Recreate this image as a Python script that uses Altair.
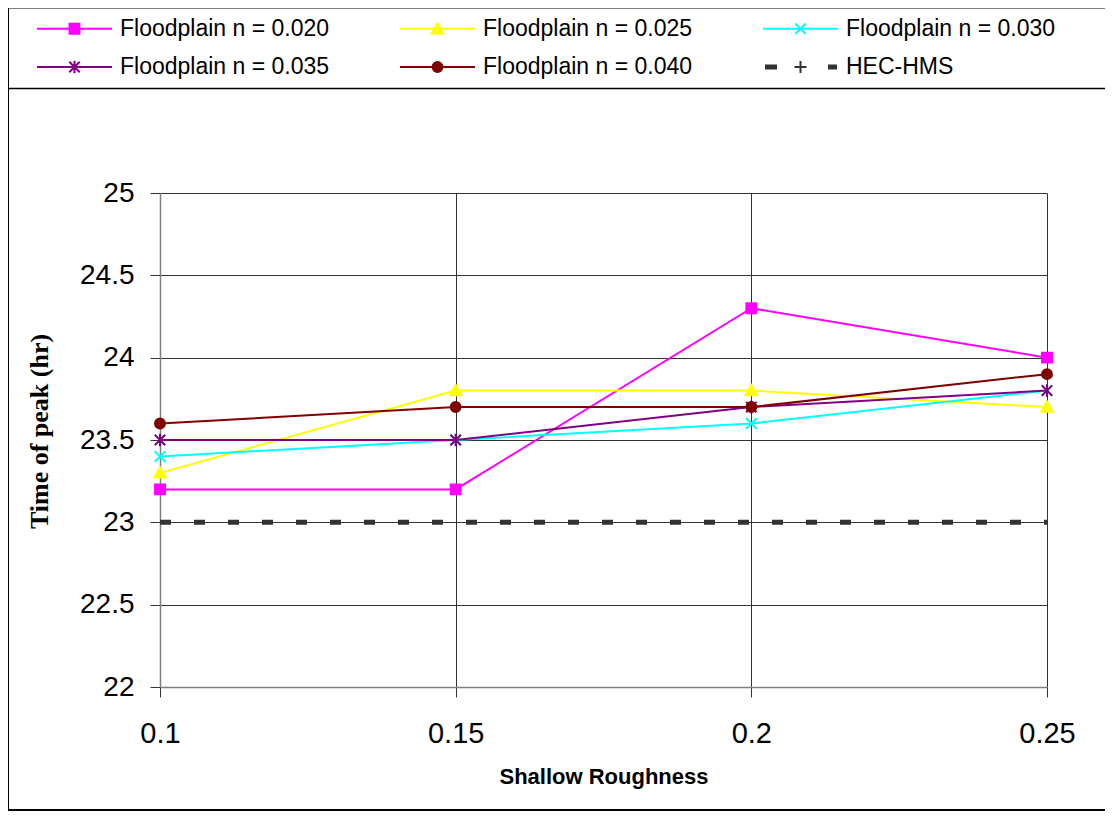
import altair as alt
import pandas as pd

# ---- data ----
x_vals = [0.1, 0.15, 0.2, 0.25]
series_names = ["Floodplain n = 0.020", "Floodplain n = 0.025", "Floodplain n = 0.030",
                "Floodplain n = 0.035", "Floodplain n = 0.040", "HEC-HMS"]
n020 = [23.2, 23.2, 24.3, 24.0]
n025 = [23.3, 23.8, 23.8, 23.7]
n030 = [23.4, 23.5, 23.6, 23.8]
n035 = [23.5, 23.5, 23.7, 23.8]
n040 = [23.6, 23.7, 23.7, 23.9]
hec_hms = [23.0, 23.0, 23.0, 23.0]
y_ticks = [22, 22.5, 23, 23.5, 24, 24.5, 25]

colors = ["#FF00FF", "#FFFF00", "#00FFFF", "#800080", "#800000", "#333333"]

# ---- marker paths (unit = sqrt(size)/2) ----
sq = "M-0.9,-0.9H0.9V0.9H-0.9Z"
tri = "M0,-1L1.05,0.85H-1.05Z"
xm = "M-0.95,-0.95L0.95,0.95M-0.95,0.95L0.95,-0.95"
ast = xm + "M0,-1.15V1.15"
circ = "M-0.9,0A0.9,0.9 0 1,0 0.9,0A0.9,0.9 0 1,0 -0.9,0Z"
plus = "M-1.1,0H1.1M0,-1.1V1.1"
shapes = [sq, tri, xm, ast, circ, plus]

rows = []
for name, vals, col, shp in zip(series_names[:5], [n020, n025, n030, n035, n040], colors, shapes):
    for xv, yv in zip(x_vals, vals):
        rows.append({"x": xv, "y": yv, "series": name, "col": col, "shp": shp})
df = pd.DataFrame(rows)
hec_df = pd.DataFrame({"x": x_vals, "y": hec_hms, "series": series_names[5], "col": colors[5]})

line_seg = "M-6.82,0H6.82"
hec_leg = "M-6.27,-0.27H-4.45V0.27H-6.27ZM5.18,-0.27H6.45V0.27H5.18Z" + plus
leg_paths = [line_seg + s for s in shapes[:5]] + [hec_leg]

shape_expr = ""
for name, p in zip(series_names[:-1], leg_paths[:-1]):
    shape_expr += "datum.value == '%s' ? '%s' : " % (name, p)
shape_expr += "'%s'" % leg_paths[-1]

legend = alt.Legend(
    title=None, orient="none", direction="horizontal", legendX=-97, legendY=-176,
    columns=3, columnPadding=65, rowPadding=14.5, labelFontSize=23, labelFont="Liberation Sans",
    labelColor="black", labelLimit=400, labelOffset=34, symbolSize=121, padding=0,
    symbolType={"expr": shape_expr},
    symbolStrokeColor={"expr": "scale('color', datum.value)"},
    symbolStrokeWidth=2, symbolOpacity=1,
)

color_scale = alt.Scale(domain=series_names, range=colors)

x_enc = alt.X("x:Q", scale=alt.Scale(domain=[0.1, 0.25], nice=False, zero=False),
              axis=alt.Axis(values=x_vals, format="~g", title="Shallow Roughness",
                            titleFont="Liberation Sans", titleFontSize=22, titleFontWeight="bold",
                            titleColor="black", titlePadding=18,
                            labelFont="Liberation Sans", labelFontSize=29, labelColor="black",
                            labelPadding=22, labelFlush=False, tickSize=10, tickColor="#333333",
                            grid=True, gridColor="#333333", gridOpacity=1, gridWidth=1,
                            domainColor="#808080", domainWidth=1.5))
y_enc = alt.Y("y:Q", scale=alt.Scale(domain=[22, 25], nice=False, zero=False),
              axis=alt.Axis(values=y_ticks, format="~g", title="Time of peak (hr)",
                            titleFont="Liberation Serif", titleFontSize=26, titleFontWeight="bold",
                            titleColor="black", titlePadding=27, titleY=238,
                            labelFont="Liberation Sans", labelFontSize=28, labelColor="black",
                            labelPadding=16, tickSize=10, tickColor="#333333",
                            grid=True, gridColor="#333333", gridOpacity=1, gridWidth=1,
                            domainColor="#808080", domainWidth=1.5))

one = alt.Data(values=[{"a": 1}])
frame = alt.Chart(one).mark_rect(fillOpacity=0, stroke="black", strokeWidth=2).encode(
    x=alt.value(-152), x2=alt.value(960), y=alt.value(-185.5), y2=alt.value(617))
sep = alt.Chart(one).mark_rule(color="black", strokeWidth=1.5).encode(
    x=alt.value(-152), x2=alt.value(960), y=alt.value(-104.5))

lines = alt.Chart(df).mark_line(strokeWidth=2).encode(
    x=x_enc, y=y_enc,
    stroke=alt.Stroke("col:N", scale=None),
    detail="series:N")

hec = alt.Chart(hec_df).mark_line(strokeWidth=5, strokeDash=[11, 23]).encode(
    x=x_enc, y=y_enc,
    stroke=alt.Stroke("col:N", scale=None))

points = alt.Chart(df).mark_point(size=121, strokeWidth=2, opacity=1, filled=True).encode(
    x=x_enc, y=y_enc,
    color=alt.Color("series:N", scale=color_scale, legend=legend),
    stroke=alt.Stroke("col:N", scale=None),
    shape=alt.Shape("shp:N", scale=None))

chart = alt.layer(frame, sep, lines, hec, points).properties(
    width=887, height=494,
    autosize=alt.AutoSizeParams(type="none"),
    padding={"left": 152, "top": 185, "right": 58, "bottom": 124},
    background="white",
).configure_view(strokeWidth=0)

chart.save("out.html", embed_options={"renderer": "svg", "actions": False})
